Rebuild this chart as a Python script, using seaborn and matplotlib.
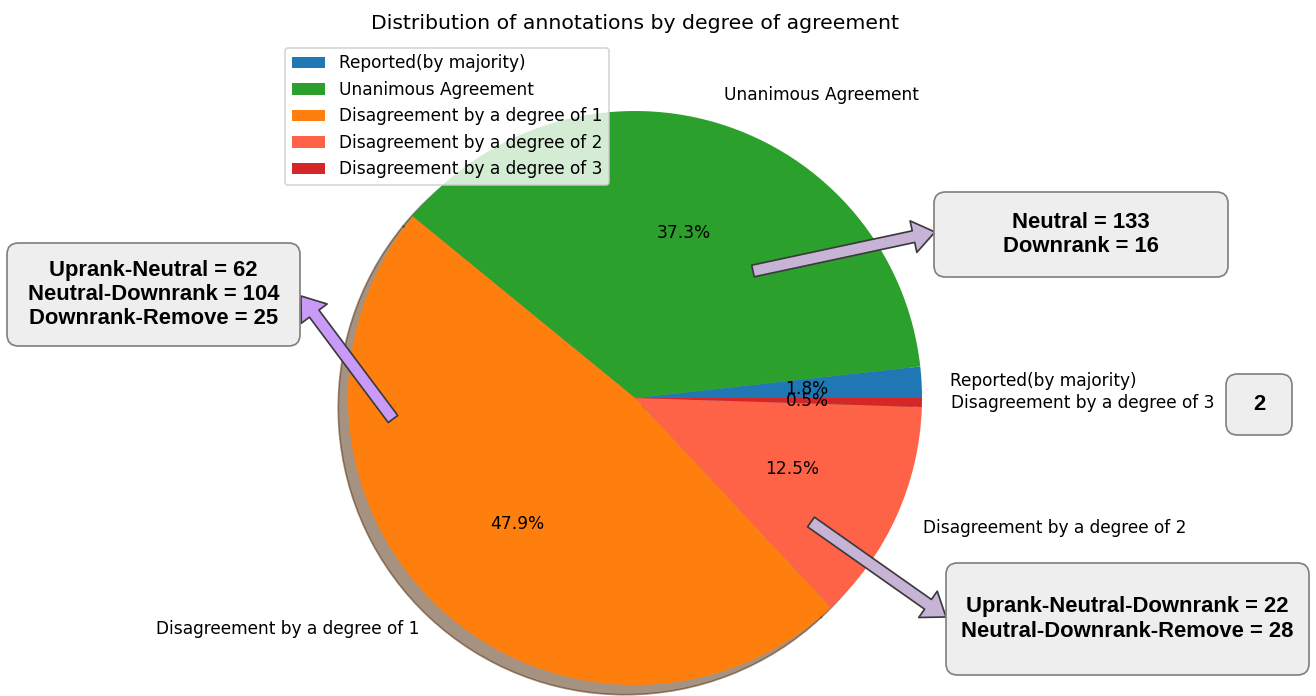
import matplotlib
matplotlib.use("Agg")
import matplotlib.pyplot as plt
from matplotlib.patches import FancyBboxPatch
import seaborn as sns

# ---------------- data ----------------
categories = ["Reported(by majority)", "Unanimous Agreement",
              "Disagreement by a degree of 1", "Disagreement by a degree of 2",
              "Disagreement by a degree of 3"]
counts = [7, 149, 191, 50, 2]

unanimous_labels = ["Neutral", "Downrank"]
unanimous_values = [133, 16]
deg1_labels = ["Uprank-Neutral", "Neutral-Downrank", "Downrank-Remove"]
deg1_values = [62, 104, 25]
deg2_labels = ["Uprank-Neutral-Downrank", "Neutral-Downrank-Remove"]
deg2_values = [22, 28]
deg3_values = [2]

title = "Distribution of annotations by degree of agreement"

# ---------------- style ----------------
tab = sns.color_palette("tab10")
colors = [tab[0], tab[2], tab[1], "tomato", tab[3]]

DPI = 122
W, H = 1316, 696
fig = plt.figure(figsize=(W / DPI, H / DPI), dpi=DPI)
# pie centre at (635, 398) px, radius 287 px -> axes spans +-1.25 units
CX, CY, R = 635.0, 398.0, 287.0
ax = fig.add_axes([(CX - 1.25 * R) / W, ((H - CY) - 1.25 * R) / H,
                   2.5 * R / W, 2.5 * R / H])

wedges, texts, autotexts = ax.pie(counts, labels=categories, colors=colors,
                                  autopct="%1.1f%%", shadow=True)
ax.set_title(title)
ax.legend(wedges, categories, loc="upper left")


def d(px, py):
    return ((px - CX) / R, (CY - py) / R)


def fmt(labels, values):
    return "\n".join(f"{l} = {v}" for l, v in zip(labels, values))


annotations = [
    dict(text=fmt(unanimous_labels, unanimous_values), box=(934, 192, 1228, 277),
         tail=(753, 271), tip=(935, 232), color="#c6b3d6"),
    dict(text=fmt(deg1_labels, deg1_values), box=(7, 243, 300, 346),
         tail=(393, 419), tip=(301, 296), color="#c99af7"),
    dict(text=str(deg3_values[0]), box=(1226, 374, 1292, 435),
         tail=None, tip=None, color=None),
    dict(text=fmt(deg2_labels, deg2_values), box=(946, 563, 1309, 675),
         tail=(811, 522), tip=(946, 617), color="#c6b3d6"),
]

for a in annotations:
    x0, y0, x1, y1 = a["box"]
    bx0, by1 = d(x0, y0)
    bx1, by0 = d(x1, y1)
    patch = FancyBboxPatch((bx0, by0), bx1 - bx0, by1 - by0,
                           boxstyle="round,pad=0,rounding_size=0.04",
                           fc="#eeeeee", ec="#808080", lw=1.0,
                           transform=ax.transData, clip_on=False, zorder=4)
    ax.add_patch(patch)
    ax.text((bx0 + bx1) / 2, (by0 + by1) / 2, a["text"], ha="center", va="center",
            multialignment="center", fontsize=13, fontweight="bold",
            family=["Liberation Sans", "DejaVu Sans"], color="black",
            zorder=5, clip_on=False)
    if a["tail"] is not None:
        ax.annotate("", xy=d(*a["tip"]), xytext=d(*a["tail"]),
                    xycoords="data", textcoords="data",
                    arrowprops=dict(facecolor=a["color"], edgecolor="#3a3a3a",
                                    width=7.0, headwidth=19, headlength=13,
                                    shrink=0.0, lw=1.0),
                    zorder=3, annotation_clip=False)

fig.savefig("out.png", dpi=DPI)
